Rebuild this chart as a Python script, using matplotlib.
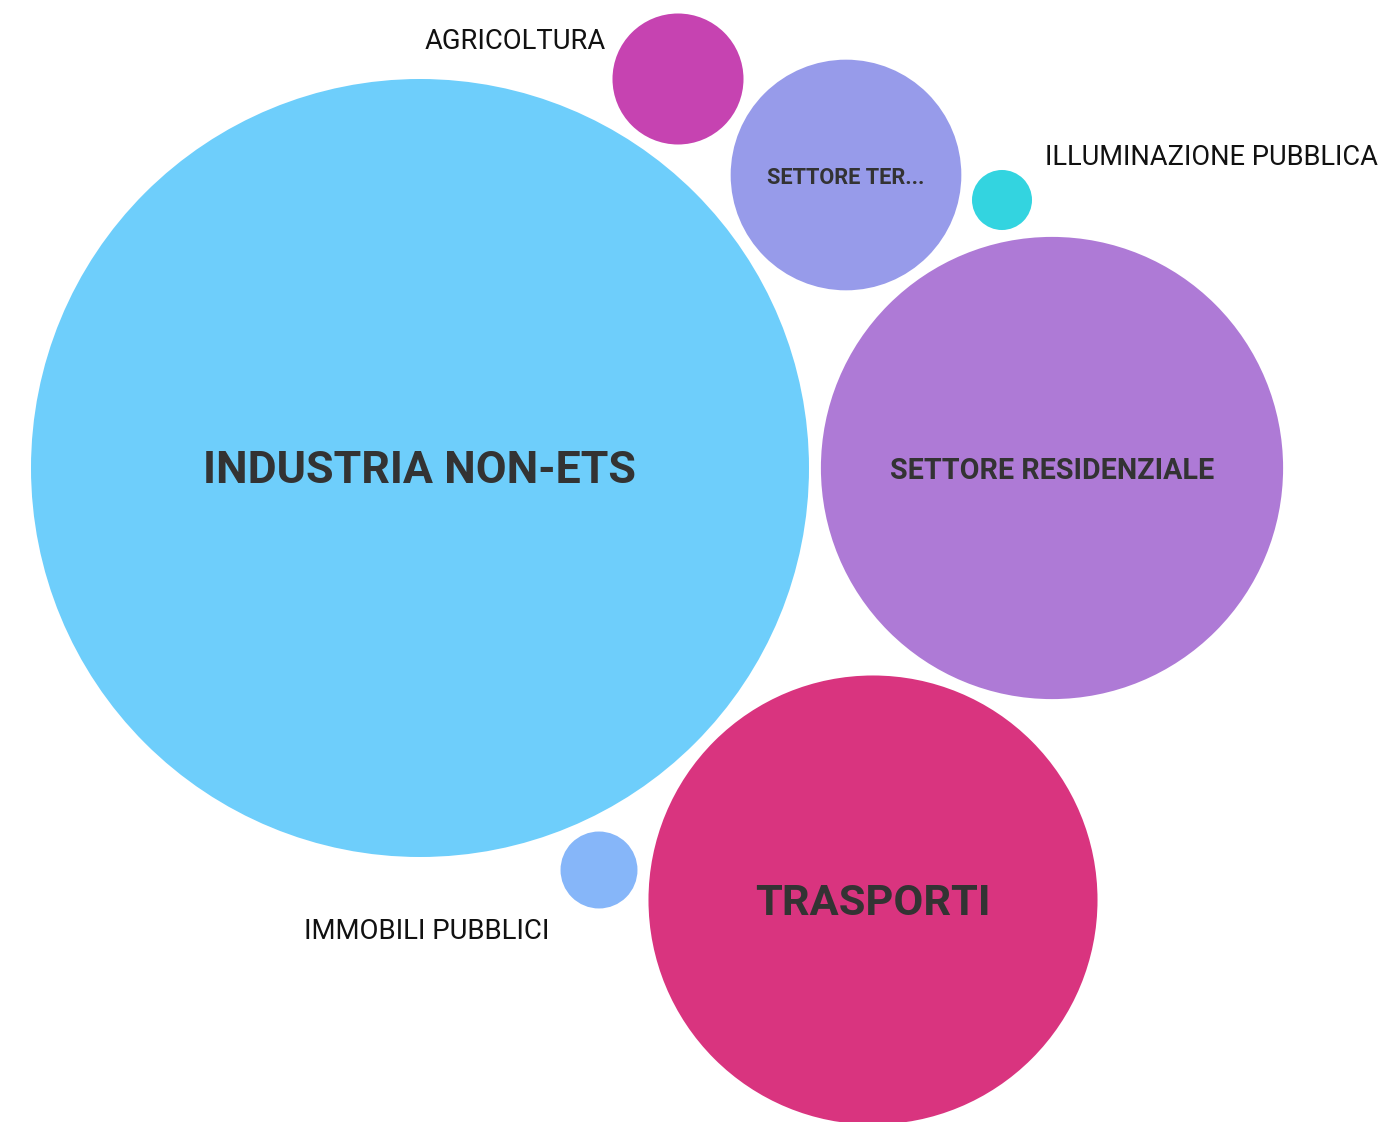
import matplotlib.pyplot as plt
from matplotlib.patches import Circle
from matplotlib import font_manager
import numpy as np

# dati: settori e valori (area proporzionale al valore)
settori = ["INDUSTRIA NON-ETS", "SETTORE RESIDENZIALE", "TRASPORTI",
           "SETTORE TERZIARIO", "AGRICOLTURA", "IMMOBILI PUBBLICI",
           "ILLUMINAZIONE PUBBLICA"]
valori = [151300, 53400, 50400, 13300, 4290, 1480, 900]
etichette = ["INDUSTRIA NON-ETS", "SETTORE RESIDENZIALE", "TRASPORTI",
             "SETTORE TER...", "AGRICOLTURA", "IMMOBILI PUBBLICI",
             "ILLUMINAZIONE PUBBLICA"]

# stile e posizioni (layout del packing, in pixel)
colori = ["#6ECEFB", "#AE7AD6", "#D9347F", "#979BEA", "#C643B1",
          "#86B6F9", "#33D4E0"]
centri = [(420, 468), (1052, 468), (873, 900), (846, 175), (678, 79),
          (599, 870), (1002, 200)]
r_max = 389

# font simile a Titillium
disponibili = {f.name for f in font_manager.fontManager.ttflist}
famiglia = "DejaVu Sans"
for nome in ["Roboto", "Open Sans"]:
    if nome in disponibili:
        famiglia = nome
        break
plt.rcParams['font.family'] = [famiglia, 'DejaVu Sans']

fig = plt.figure(figsize=(13.81, 11.22), dpi=100)
ax = fig.add_axes([0, 0, 1, 1])
ax.set_xlim(0, 1381)
ax.set_ylim(1122, 0)
ax.set_aspect('equal')
ax.axis('off')

raggi = r_max * np.sqrt(np.array(valori) / max(valori))

for (cx, cy), r, col in zip(centri, raggi, colori):
    ax.add_patch(Circle((cx, cy), r, color=col, lw=0))

# etichette interne (in grassetto)
interne = {0: 32.2, 1: 20.6, 2: 31.2, 3: 15.7}
for i, fs in interne.items():
    cx, cy = centri[i]
    ax.text(cx, cy + 3, etichette[i], ha='center', va='center', fontsize=fs,
            fontweight='bold', color='#333333')

# etichette esterne per le bolle piccole
ax.text(606, 41, etichette[4], ha='right', va='center', fontsize=19.7,
        color='#111111')
ax.text(549, 931, etichette[5], ha='right', va='center', fontsize=19.8,
        color='#111111')
ax.text(1045, 157, etichette[6], ha='left', va='center', fontsize=19.6,
        color='#111111')

fig.savefig("out.png", dpi=100)
